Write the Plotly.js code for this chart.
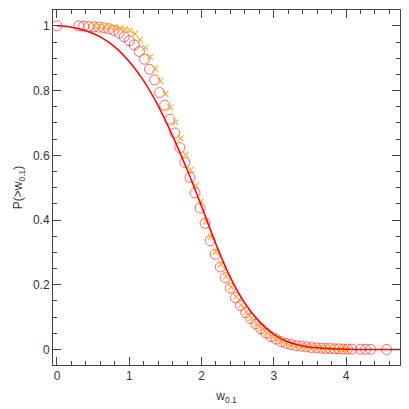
<!DOCTYPE html>
<html>
<head>
<meta charset="utf-8">
<script src="https://cdn.plot.ly/plotly-3.0.1.min.js"></script>
<style>
  body { margin: 0; background: #fff; }
  #plot-div { width: 409px; height: 409px; }
</style>
</head>
<body>
<div id="plot-div"></div>
<script>
// model curve
var lineW = [0.0, 0.2, 0.4, 0.6, 0.8, 1.0, 1.2, 1.4, 1.6, 1.8, 2.0, 2.2, 2.4, 2.6, 2.8, 3.0, 3.2, 3.4, 3.6, 3.8, 4.0, 4.2, 4.75];
var lineP = [1.000, 0.996, 0.985, 0.966, 0.935, 0.890, 0.830, 0.753, 0.660, 0.556, 0.443, 0.325, 0.222, 0.143, 0.086, 0.047, 0.023, 0.011, 0.005, 0.002, 0.001, 0.0, 0.0];

// red circles
var circW = [0.00, 0.30, 0.37, 0.44, 0.51, 0.58, 0.65, 0.72, 0.79, 0.86, 0.93, 1.00, 1.07, 1.14, 1.21, 1.28,
  1.35, 1.42, 1.49, 1.56, 1.63, 1.70, 1.77, 1.84, 1.91, 1.98, 2.05, 2.12, 2.19, 2.26, 2.33, 2.40,
  2.47, 2.54, 2.61, 2.68, 2.75, 2.82, 2.89, 2.96, 3.03, 3.10, 3.17, 3.24, 3.31, 3.38, 3.45, 3.52,
  3.59, 3.66, 3.72, 3.78, 3.84, 3.90, 3.96, 4.02, 4.08, 4.20, 4.27, 4.34, 4.56];
var circP = [1.000, 1.000, 0.999, 0.998, 0.997, 0.996, 0.994, 0.991, 0.986, 0.978, 0.966, 0.954, 0.941, 0.921, 0.897, 0.866,
  0.833, 0.794, 0.755, 0.711, 0.669, 0.624, 0.578, 0.532, 0.484, 0.437, 0.390, 0.336, 0.294, 0.255, 0.222, 0.190,
  0.160, 0.136, 0.114, 0.096, 0.079, 0.064, 0.051, 0.040, 0.032, 0.024, 0.019, 0.015, 0.012, 0.010, 0.008, 0.006,
  0.005, 0.004, 0.003, 0.003, 0.002, 0.002, 0.001, 0.001, 0.001, 0.0008, 0.0005, 0.0003, 0.0001];

// orange crosses
var crossW = [0.52, 0.59, 0.66, 0.73, 0.80, 0.87, 0.94, 1.01, 1.08, 1.15, 1.22, 1.29, 1.36, 1.43, 1.50, 1.57,
  1.64, 1.71, 1.78, 1.85, 1.92, 1.99, 2.06, 2.13, 2.20, 2.27, 2.34, 2.41, 2.48, 2.55, 2.62, 2.69,
  2.76, 2.83, 2.90, 2.97, 3.04, 3.11, 3.18, 3.25, 3.32, 3.39, 3.46, 3.53, 3.60, 3.67, 3.74, 3.81,
  3.88, 3.95, 4.02];
var crossP = [1.000, 0.999, 0.998, 0.997, 0.995, 0.993, 0.990, 0.985, 0.975, 0.957, 0.933, 0.904, 0.868, 0.830, 0.790, 0.748,
  0.702, 0.652, 0.602, 0.555, 0.506, 0.457, 0.395, 0.348, 0.302, 0.262, 0.226, 0.193, 0.163, 0.138, 0.116, 0.097,
  0.080, 0.065, 0.052, 0.041, 0.032, 0.025, 0.019, 0.015, 0.012, 0.009, 0.007, 0.006, 0.004, 0.003, 0.003, 0.002,
  0.002, 0.001, 0.001];

var circles = {
  x: circW, y: circP, mode: "markers", type: "scatter",
  marker: { symbol: "circle-open", size: 10, color: "rgba(255,40,40,0.7)", line: { width: 1 } }
};
var crosses = {
  x: crossW, y: crossP, mode: "markers", type: "scatter",
  marker: { symbol: "x-thin-open", size: 6, color: "#ffaa22", line: { width: 1.1, color: "#ffaa22" } }
};
var curve = {
  x: lineW, y: lineP, mode: "lines", type: "scatter",
  line: { color: "#ff0000", width: 1.5, shape: "spline" }
};

function axisStyle(extra) {
  var base = {
    showgrid: false, zeroline: false, showline: true, mirror: "allticks",
    linecolor: "#444", linewidth: 1,
    ticks: "inside", ticklen: 8, tickcolor: "#444", tickwidth: 1,
    tickfont: { family: "Liberation Sans, Arial, sans-serif", size: 12, color: "#333" }
  };
  for (var k in extra) base[k] = extra[k];
  return base;
}

var layout = {
  width: 409, height: 409,
  margin: { l: 53, r: 9, t: 10, b: 44 },
  showlegend: false,
  paper_bgcolor: "#fff", plot_bgcolor: "#fff",
  font: { family: "Liberation Sans, Arial, sans-serif", color: "#333" },
  xaxis: axisStyle({
    range: [-0.055, 4.746], dtick: 1, tick0: 0,
    minor: { dtick: 0.2, ticks: "inside", ticklen: 4, tickcolor: "#444" },
    title: { text: "w<sub>0.1</sub>", font: { size: 12 }, standoff: 9 }
  }),
  yaxis: axisStyle({
    range: [-0.048, 1.049], dtick: 0.2, tick0: 0,
    minor: { dtick: 0.05, ticks: "inside", ticklen: 4, tickcolor: "#444" },
    title: { text: "P(&gt;w<sub>0.1</sub>)", font: { size: 12 }, standoff: 7 }
  })
};

Plotly.newPlot("plot-div", [circles, crosses, curve], layout, { staticPlot: true });
</script>
</body>
</html>
